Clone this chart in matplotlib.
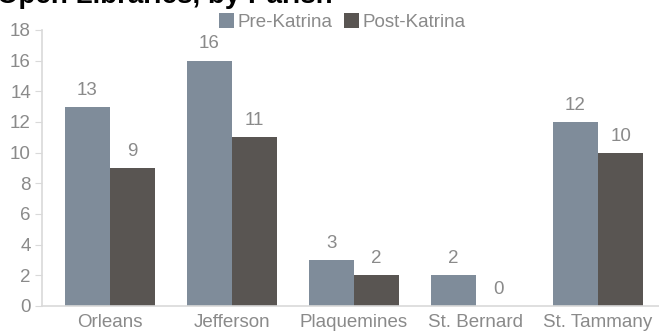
import numpy as np
import matplotlib.pyplot as plt

parishes = ["Orleans", "Jefferson", "Plaquemines", "St. Bernard", "St. Tammany"]
pre_katrina = [13, 16, 3, 2, 12]
post_katrina = [9, 11, 2, 0, 10]

plt.rcParams['font.family'] = ['Liberation Sans', 'DejaVu Sans']

fig = plt.figure(figsize=(6.59, 3.32), dpi=100)
ax = fig.add_axes([42 / 659, 26 / 332, 1 - 42 / 659, 276 / 332])

x = np.arange(len(parishes))
w = 0.37
pre_col = "#7f8c9a"
post_col = "#595552"
txt_col = "#8a8a8a"
fs = 13.5

b1 = ax.bar(x - w / 2, pre_katrina, w, color=pre_col, label="Pre-Katrina")
b2 = ax.bar(x + w / 2, post_katrina, w, color=post_col, label="Post-Katrina")

# value labels above each bar
for bars in (b1, b2):
    for bar in bars:
        h = bar.get_height()
        ax.annotate(f"{h:g}", (bar.get_x() + bar.get_width() / 2, h),
                    xytext=(0, 12), textcoords="offset points",
                    ha="center", va="center", fontsize=fs, color=txt_col)

ax.set_xlim(-0.557, 4.5)
ax.set_ylim(0, 18)
ax.set_yticks(range(0, 19, 2))
ax.set_xticks(x)
ax.set_xticklabels(parishes)

for s in ("top", "right"):
    ax.spines[s].set_visible(False)
for s in ("left", "bottom"):
    ax.spines[s].set_color("#d9d9d9")
    ax.spines[s].set_linewidth(1.2)
ax.tick_params(axis="y", length=5, color="#d9d9d9", labelcolor=txt_col, labelsize=fs, pad=3)
ax.tick_params(axis="x", length=0, labelcolor=txt_col, labelsize=fs, pad=6)

fig.legend(handles=[b1, b2], loc="center", bbox_to_anchor=(342 / 659, 1 - 22 / 332),
           ncol=2, frameon=False, fontsize=fs, labelcolor=txt_col,
           handlelength=0.8, handleheight=0.8, handletextpad=0.2, columnspacing=0.6,
           borderpad=0)

fig.text(-0.005, 1 - 3 / 332, "Open Libraries, by Parish", fontsize=20, fontweight="bold",
         color="black", ha="left", va="baseline")

fig.savefig("out.png", dpi=100)
